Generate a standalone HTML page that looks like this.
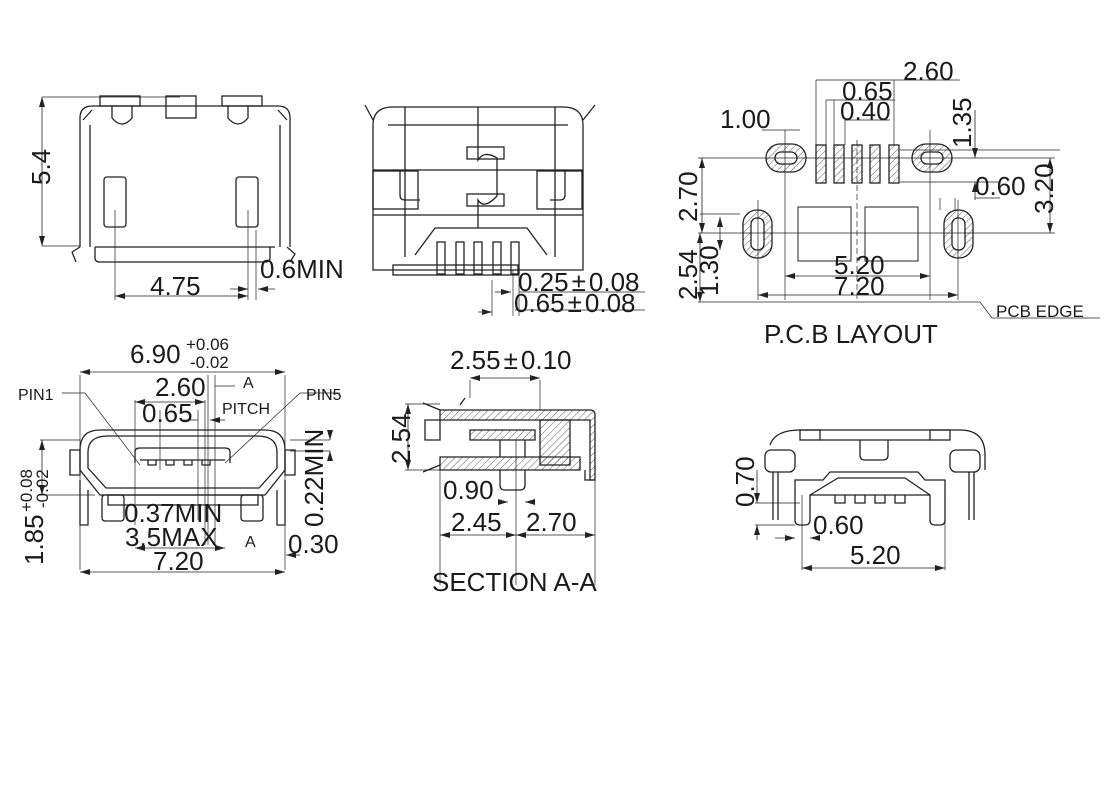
<!DOCTYPE html>
<html><head><meta charset="utf-8"><style>
html,body{margin:0;padding:0;background:#fff}
svg{display:block}
text{font-family:"Liberation Sans",sans-serif;fill:#1a1a1a}
.d{font-size:26px}
.s{font-size:16px}
</style></head><body>
<svg width="1120" height="786" viewBox="0 0 1120 786" xmlns="http://www.w3.org/2000/svg">
<defs>
<pattern id="h" width="5" height="5" patternUnits="userSpaceOnUse" patternTransform="rotate(45)"><line x1="0" y1="0" x2="0" y2="5" stroke="#333" stroke-width="0.8"/></pattern>
<marker id="a" markerWidth="10" markerHeight="6" refX="10" refY="3" orient="auto-start-reverse" markerUnits="userSpaceOnUse"><path d="M0,0 L10,3 L0,6z" fill="#222"/></marker>
</defs>
<g fill="none" stroke="#222" stroke-width="1.3">
<!-- TOP LEFT VIEW -->
<path d="M80,247 V118 Q80,106 92,106 H278 Q290,106 290,118 V247"/>
<path d="M90,247 V125 M280,247 V125"/>
<rect x="100" y="96" width="40" height="10"/><rect x="166" y="96" width="30" height="22"/><rect x="222" y="96" width="40" height="10"/>
<path d="M112,106 V118 Q122,130 132,118 V106 M228,106 V118 Q238,130 248,118 V106"/>
<path d="M83,120 L92,110 M278,110 L287,120"/>
<rect x="104" y="177" width="22" height="50" rx="3"/><rect x="236" y="177" width="22" height="50" rx="3"/>
<path d="M95,247 H275 M95,247 V258 Q95,262 100,262 H265 Q270,262 270,258 V247"/>
<path d="M72,252 L80,247 M72,252 L76,262 M287,247 L295,254 L290,262"/>
<g stroke-width="0.7"><path d="M42,97 H180 M42,246 H80 M115,210 V300 M248,210 V300 M256,230 V300"/></g>
<line x1="42" y1="97" x2="42" y2="246" stroke-width="0.8" marker-start="url(#a)" marker-end="url(#a)"/>
<line x1="115" y1="296" x2="248" y2="296" stroke-width="0.8" marker-start="url(#a)" marker-end="url(#a)"/>
<line x1="230" y1="289" x2="248" y2="289" stroke-width="0.8" marker-end="url(#a)"/>
<line x1="275" y1="289" x2="258" y2="289" stroke-width="0.8" marker-end="url(#a)"/>

<!-- TOP MIDDLE VIEW -->
<path d="M373,270 V125 Q373,107 393,107 H563 Q583,107 583,125 V270 Z"/>
<path d="M405,107 V257 M555,107 V257 M388,125 H568 M373,170 H583 M373,215 H583"/>
<rect x="373" y="171" width="45" height="38"/><rect x="537" y="171" width="45" height="38"/>
<path d="M400,171 V195 Q400,200 405,200 H420 M550,200 H560 Q565,200 565,195 V171"/>
<rect x="467" y="147" width="37" height="12"/><rect x="467" y="194" width="37" height="12"/>
<path d="M478,107 V160 Q484,150 497,158 V196 Q484,210 478,200 V228"/>
<path d="M415,255 L435,228 H527 L547,255"/>
<path d="M365,105 L373,120 M595,105 L583,120"/>
<rect x="393" y="265" width="125" height="10"/>
<g><rect x="437" y="242" width="8" height="32"/><rect x="456" y="242" width="8" height="32"/><rect x="474" y="242" width="8" height="32"/><rect x="493" y="242" width="8" height="32"/><rect x="511" y="242" width="8" height="32"/></g>
<g stroke-width="0.7"><path d="M513,270 V316 M519,270 V316 M492,280 V316 M519,292 H645 M515,310 H645"/></g>
<line x1="495" y1="292" x2="511" y2="292" stroke-width="0.8" marker-end="url(#a)"/>
<line x1="478" y1="312" x2="492" y2="312" stroke-width="0.8" marker-end="url(#a)"/>

<!-- PCB LAYOUT -->
<rect x="766" y="144" width="40" height="28" rx="14" fill="url(#h)"/><rect x="775" y="152" width="22" height="12" rx="6" fill="#fff"/>
<rect x="912" y="144" width="40" height="28" rx="14" fill="url(#h)"/><rect x="921" y="152" width="22" height="12" rx="6" fill="#fff"/>
<rect x="743" y="210" width="29" height="48" rx="14" fill="url(#h)"/><rect x="751" y="218" width="13" height="32" rx="6" fill="#fff"/>
<rect x="944" y="210" width="29" height="48" rx="14" fill="url(#h)"/><rect x="952" y="218" width="13" height="32" rx="6" fill="#fff"/>
<g fill="url(#h)"><rect x="816" y="145" width="10" height="38"/><rect x="834" y="145" width="10" height="38"/><rect x="852" y="145" width="10" height="38"/><rect x="870" y="145" width="10" height="38"/><rect x="889" y="145" width="10" height="38"/></g>
<rect x="798" y="207" width="53" height="54" stroke-width="1"/><rect x="865" y="207" width="53" height="54" stroke-width="1"/>
<g stroke-width="0.7">
<path d="M698,158 H1055 M698,233 H1055 M698,302 H980 L992,318 H1100 M700,214 H740 M816,80 V145 M894,80 V145 M826,100 V145 M834,100 V145 M845,120 V145 M785,130 V300 M930,130 V300 M758,200 V300 M958,200 V300 M900,150 H1060 M900,182 H1000 M940,198 V210 M955,198 V210"/>
<path d="M762,130 H800 M816,80 H960 M826,100 H895 M845,120 H890 M975,198 H1000" />
<path d="M857,140 V300" stroke-dasharray="6,3"/>
</g>
<line x1="702" y1="158" x2="702" y2="233" stroke-width="0.8" marker-start="url(#a)" marker-end="url(#a)"/>
<line x1="1050" y1="158" x2="1050" y2="233" stroke-width="0.8" marker-start="url(#a)" marker-end="url(#a)"/>
<line x1="975" y1="110" x2="975" y2="158" stroke-width="0.8" marker-end="url(#a)"/>
<line x1="975" y1="200" x2="975" y2="182" stroke-width="0.8" marker-end="url(#a)"/>
<line x1="720" y1="217" x2="720" y2="250" stroke-width="0.8" marker-start="url(#a)" marker-end="url(#a)"/>
<line x1="700" y1="233" x2="700" y2="302" stroke-width="0.8" marker-start="url(#a)" marker-end="url(#a)"/>
<line x1="785" y1="276" x2="930" y2="276" stroke-width="0.8" marker-start="url(#a)" marker-end="url(#a)"/>
<line x1="758" y1="295" x2="958" y2="295" stroke-width="0.8" marker-start="url(#a)" marker-end="url(#a)"/>

<!-- BOTTOM LEFT FRONT VIEW -->
<path d="M100,430 Q80,430 80,450 V470 L100,495 H265 L285,470 V450 Q285,430 265,430 Z"/>
<path d="M108,436 Q88,436 88,452 V468 L106,488 H259 L277,468 V452 Q277,436 257,436 Z"/>
<path d="M70,450 H80 V475 H70 Z M285,450 H295 V475 H285 Z"/>
<path d="M80,480 V525 H88 V490 M285,480 V525 H277 V490"/>
<rect x="102" y="495" width="22" height="26" rx="3"/><rect x="241" y="495" width="22" height="26" rx="3"/>
<path d="M135,463 V452 Q135,448 140,448 H225 Q230,448 230,452 V463"/>
<path d="M140,460 H225 M148,460 V465 H156 V460 M166,460 V465 H174 V460 M184,460 V465 H192 V460 M202,460 V465 H210 V460"/>
<path d="M108,495 H258 V505 H108 Z"/>
<g stroke-width="0.7">
<path d="M80,375 V570 M285,375 V570 M62,393 L85,393 L140,465 M340,393 L300,393 L225,463 M135,400 V525 M205,400 V545 M208,375 V545 M215,375 V545 M198,410 V520 M160,410 V470 M290,440 H330 M290,451 H330 M40,495 H95 M40,440 H80"/>
</g>
<line x1="80" y1="372" x2="285" y2="372" stroke-width="0.8" marker-start="url(#a)" marker-end="url(#a)"/>
<line x1="135" y1="402" x2="205" y2="402" stroke-width="0.8" marker-start="url(#a)" marker-end="url(#a)"/>
<line x1="215" y1="386" x2="235" y2="386" stroke-width="0.8"/>
<line x1="180" y1="420" x2="198" y2="420" stroke-width="0.8"/>
<line x1="225" y1="420" x2="210" y2="420" stroke-width="0.8" marker-end="url(#a)"/>
<line x1="135" y1="548" x2="225" y2="548" stroke-width="0.8" marker-start="url(#a)" marker-end="url(#a)"/>
<line x1="80" y1="572" x2="285" y2="572" stroke-width="0.8" marker-start="url(#a)" marker-end="url(#a)"/>
<line x1="330" y1="430" x2="330" y2="440" stroke-width="0.8" marker-end="url(#a)"/>
<line x1="330" y1="460" x2="330" y2="451" stroke-width="0.8" marker-end="url(#a)"/>
<line x1="42" y1="440" x2="42" y2="495" stroke-width="0.8" marker-start="url(#a)" marker-end="url(#a)"/>
<line x1="300" y1="555" x2="286" y2="555" stroke-width="0.8" marker-end="url(#a)"/>

<!-- SECTION A-A -->
<path d="M440,410 H590 Q595,410 595,415 V480 H590 V420 H440 Z" fill="url(#h)"/>
<path d="M440,457 H580 V470 H440 Z" fill="url(#h)"/>
<path d="M540,420 H570 V465 H540 Z" fill="url(#h)"/>
<path d="M470,430 H535 V440 H470 Z" fill="url(#h)"/>
<path d="M423,403 L440,410 M423,472 L440,465 M425,420 H440 V440 H425 Z M500,440 V457 M525,440 V457 M500,470 V485 Q500,490 505,490 H520 Q525,490 525,485 V470 M460,405 L465,398 M585,470 V480 H595"/>
<g stroke-width="0.7"><path d="M470,380 V398 M540,380 V410 M440,470 V585 M516,440 V585 M595,480 V585 M405,404 H440 M405,470 H440"/></g>
<line x1="470" y1="378" x2="540" y2="378" stroke-width="0.8" marker-start="url(#a)" marker-end="url(#a)"/>
<line x1="408" y1="404" x2="408" y2="470" stroke-width="0.8" marker-start="url(#a)" marker-end="url(#a)"/>
<line x1="498" y1="502" x2="508" y2="502" stroke-width="0.8" marker-end="url(#a)"/>
<line x1="533" y1="502" x2="525" y2="502" stroke-width="0.8" marker-end="url(#a)"/>
<line x1="440" y1="535" x2="516" y2="535" stroke-width="0.8" marker-start="url(#a)" marker-end="url(#a)"/>
<line x1="516" y1="535" x2="595" y2="535" stroke-width="0.8" marker-start="url(#a)" marker-end="url(#a)"/>

<!-- BOTTOM RIGHT VIEW -->
<path d="M770,445 Q775,430 800,430 H960 Q985,430 985,455 V470"/>
<rect x="800" y="430" width="20" height="10"/><rect x="930" y="430" width="20" height="10"/>
<path d="M820,440 H930 M860,440 V455 Q860,460 865,460 H883 Q888,460 888,455 V440"/>
<rect x="765" y="450" width="30" height="22" rx="6"/><rect x="950" y="450" width="30" height="22" rx="6"/>
<path d="M773,472 V520 M778,472 V520 M969,472 V520 M974,472 V520"/>
<path d="M795,520 V480 H823 L830,472 H918 L925,480 H945 V520 Q945,525 940,525 H935 Q930,525 930,520 V495 H810 V520 Q810,525 805,525 H800 Q795,525 795,520 Z"/>
<path d="M810,495 L838,478 H905 L930,495"/>
<path d="M835,495 V503 H845 V495 M855,495 V503 H865 V495 M875,495 V503 H885 V495 M895,495 V503 H905 V495"/>
<g stroke-width="0.7"><path d="M755,503 H800 M755,525 H795 M802,495 V570 M945,495 V570"/></g>
<line x1="757" y1="470" x2="757" y2="503" stroke-width="0.8" marker-end="url(#a)"/>
<line x1="757" y1="540" x2="757" y2="525" stroke-width="0.8" marker-end="url(#a)"/>
<line x1="775" y1="538" x2="795" y2="538" stroke-width="0.8" marker-end="url(#a)"/>
<line x1="820" y1="538" x2="810" y2="538" stroke-width="0.8" marker-end="url(#a)"/>
<line x1="802" y1="568" x2="945" y2="568" stroke-width="0.8" marker-start="url(#a)" marker-end="url(#a)"/>
</g>

<!-- TEXTS -->
<text class="d" transform="translate(50,185) rotate(-90)">5.4</text>
<text class="d" x="150" y="295">4.75</text>
<text class="d" x="260" y="278">0.6MIN</text>
<text class="d" x="518" y="291">0.25<tspan dx="3">±</tspan><tspan dx="3">0.08</tspan></text>
<text class="d" x="514" y="312">0.65<tspan dx="3">±</tspan><tspan dx="3">0.08</tspan></text>

<text class="d" x="903" y="80">2.60</text>
<text class="d" x="842" y="100">0.65</text>
<text class="d" x="840" y="120">0.40</text>
<text class="d" x="720" y="128">1.00</text>
<text class="d" transform="translate(971,148) rotate(-90)">1.35</text>
<text class="d" x="975" y="195">0.60</text>
<text class="d" transform="translate(1053,214) rotate(-90)">3.20</text>
<text class="d" transform="translate(697,222) rotate(-90)">2.70</text>
<text class="d" transform="translate(697,300) rotate(-90)">2.54</text>
<text class="d" transform="translate(718,296) rotate(-90)">1.30</text>
<text class="d" x="834" y="274">5.20</text>
<text class="d" x="834" y="295">7.20</text>
<text x="996" y="317" style="font-size:17px">PCB EDGE</text>
<text class="d" x="764" y="343">P.C.B LAYOUT</text>

<text class="d" x="130" y="363">6.90</text>
<text x="186" y="350" style="font-size:17px">+0.06</text>
<text x="190" y="368" style="font-size:17px">-0.02</text>
<text class="d" x="155" y="396">2.60</text>
<text class="s" x="243" y="388">A</text>
<text class="s" x="18" y="400">PIN1</text>
<text class="s" x="306" y="400">PIN5</text>
<text class="d" x="142" y="422">0.65</text>
<text class="s" x="222" y="414">PITCH</text>
<text class="d" x="124" y="522">0.37MIN</text>
<text class="d" x="125" y="546">3.5MAX</text>
<text class="s" x="245" y="547">A</text>
<text class="d" x="153" y="570">7.20</text>
<text class="d" x="288" y="553">0.30</text>
<text class="d" transform="translate(323,527) rotate(-90)">0.22MIN</text>
<text class="d" transform="translate(43,565) rotate(-90)">1.85</text>
<text transform="translate(32,512) rotate(-90)" style="font-size:17px">+0.08</text>
<text transform="translate(48,508) rotate(-90)" style="font-size:17px">-0.02</text>

<text class="d" x="450" y="369">2.55<tspan dx="3">±</tspan><tspan dx="3">0.10</tspan></text>
<text class="d" transform="translate(410,464) rotate(-90)">2.54</text>
<text class="d" x="443" y="499">0.90</text>
<text class="d" x="451" y="531">2.45</text>
<text class="d" x="526" y="531">2.70</text>
<text class="d" x="432" y="591">SECTION A-A</text>

<text class="d" transform="translate(754,507) rotate(-90)">0.70</text>
<text class="d" x="813" y="534">0.60</text>
<text class="d" x="850" y="564">5.20</text>
</svg>
</body></html>
